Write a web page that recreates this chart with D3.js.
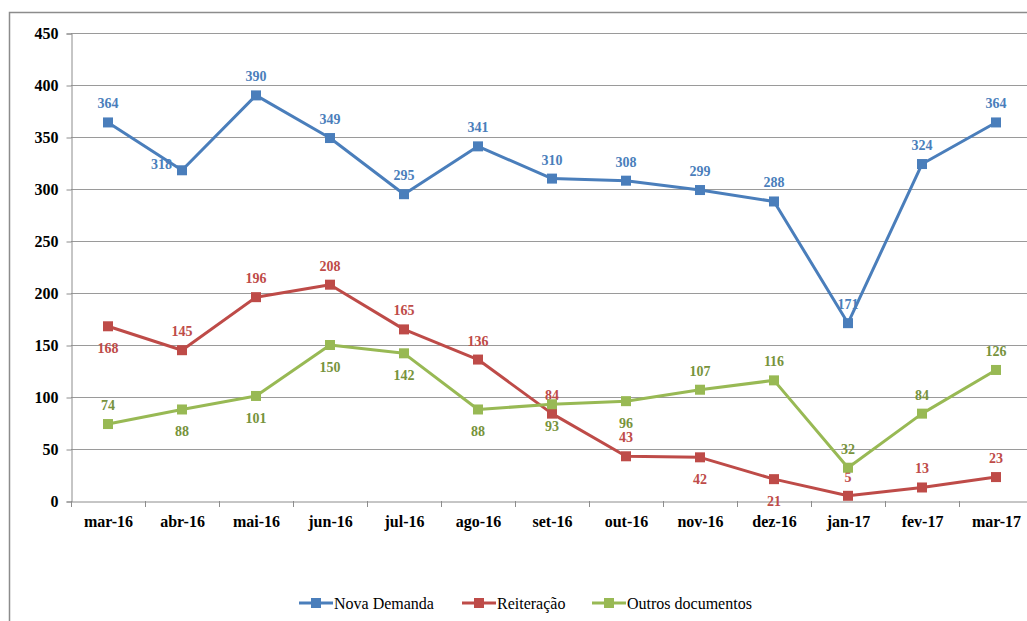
<!DOCTYPE html>
<html>
<head>
<meta charset="utf-8">
<script src="https://cdn.jsdelivr.net/npm/d3@7"></script>
<style>
  html, body { margin: 0; padding: 0; background: #fff; }
  svg { display: block; }
  svg text { font-family: "Liberation Serif", "DejaVu Serif", serif; }
</style>
</head>
<body>
<svg id="chart" width="1027" height="621"></svg>
<script>
const categories = ["mar-16","abr-16","mai-16","jun-16","jul-16","ago-16","set-16","out-16","nov-16","dez-16","jan-17","fev-17","mar-17"];
const novaDemanda = [364,318,390,349,295,341,310,308,299,288,171,324,364];
const reiteracao  = [168,145,196,208,165,136,84,43,42,21,5,13,23];
const outrosDocs  = [74,88,101,150,142,88,93,96,107,116,32,84,126];
const yTicks = [0,50,100,150,200,250,300,350,400,450];
const seriesNames = ["Nova Demanda","Reiteração","Outros documentos"];
const seriesColors = ["#4A7EBB","#BE4B48","#98B954"];
const labelColors = ["#4A7EBB","#BE4B48","#77933C"];
// label placement: a = above, b = below, l = left
const novaPlace = ["a","l","a","a","a","a","a","a","a","a","a","a","a"];
const reitPlace = ["b","a","a","a","a","a","a","a","b","b","a","a","a"];
const outrosPlace = ["a","b","b","b","b","b","b","b","a","a","a","a","a"];

const series = [
  {name: seriesNames[0], values: novaDemanda, place: novaPlace, color: seriesColors[0], lc: labelColors[0]},
  {name: seriesNames[1], values: reiteracao, place: reitPlace, color: seriesColors[1], lc: labelColors[1]},
  {name: seriesNames[2], values: outrosDocs, place: outrosPlace, color: seriesColors[2], lc: labelColors[2]}
];

const svg = d3.select("#chart");
const font = "Liberation Serif, DejaVu Serif, serif";

// outer chart border
svg.append("rect").attr("x",9.5).attr("y",12.5).attr("width",1100).attr("height",700)
  .attr("fill","none").attr("stroke","#8c8c8c").attr("stroke-width",1.5);

const x = d3.scaleBand().domain(categories).range([71,1033]).padding(0);
const y = d3.scaleLinear().domain([0,450]).range([501,33]);

// gridlines
svg.append("g").selectAll("line").data(yTicks.filter(d=>d>0)).join("line")
  .attr("x1",71).attr("x2",1033)
  .attr("y1",d=>Math.round(y(d))+0.5).attr("y2",d=>Math.round(y(d))+0.5)
  .attr("stroke","#9a9a9a").attr("stroke-width",1);

// y axis
const yAxis = svg.append("g").attr("transform","translate(71.5,0.5)")
  .call(d3.axisLeft(y).tickValues(yTicks).tickSize(5).tickPadding(8).tickFormat(d3.format("d")));
yAxis.attr("font-family",null).attr("font-size",null);
yAxis.select(".domain").attr("stroke","#8c8c8c");
yAxis.selectAll(".tick line").attr("stroke","#8c8c8c");
yAxis.selectAll("text").style("font-family",font).style("font-size","16px").style("font-weight","bold").attr("fill","#000");

// x axis
const xAxis = svg.append("g").attr("transform","translate(0.5,501.5)")
  .call(d3.axisBottom(x).tickSize(0).tickPadding(14));
xAxis.attr("font-family",null).attr("font-size",null);
xAxis.select(".domain").attr("stroke","#8c8c8c");
xAxis.selectAll("text").style("font-family",font).style("font-size","16px").style("font-weight","bold").attr("fill","#000");
// x tick marks at band boundaries
svg.append("g").selectAll("line").data(categories).join("line")
  .attr("x1",d=>Math.round(x(d))+0.5).attr("x2",d=>Math.round(x(d))+0.5)
  .attr("y1",501).attr("y2",507).attr("stroke","#8c8c8c");

const cx = d => x(d) + x.bandwidth()/2;
const line = d3.line().x(d=>cx(d.c)).y(d=>y(d.v));

series.forEach(s => {
  const pts = categories.map((c,i)=>({c, v:s.values[i], p:s.place[i]}));
  const g = svg.append("g");
  g.append("path").datum(pts).attr("d",line).attr("fill","none")
    .attr("stroke",s.color).attr("stroke-width",3).attr("stroke-linejoin","round");
  g.selectAll("rect").data(pts).join("rect")
    .attr("x",d=>cx(d.c)-5).attr("y",d=>y(d.v)-5).attr("width",10).attr("height",10)
    .attr("fill",s.color);
  g.selectAll("text").data(pts).join("text")
    .attr("x",d=> d.p==="l" ? cx(d.c)-10 : cx(d.c))
    .attr("y",d=> d.p==="a" ? y(d.v)-14 : d.p==="b" ? y(d.v)+27 : y(d.v)-1)
    .attr("text-anchor",d=> d.p==="l" ? "end" : "middle")
    .style("font-family",font).style("font-size","14px").style("font-weight","bold")
    .attr("fill",s.lc).text(d=>d.v);
});

// legend
const legendX = [299,462,592];
const legend = svg.append("g");
series.forEach((s,i)=>{
  const lx = legendX[i], ly = 603;
  legend.append("line").attr("x1",lx).attr("x2",lx+34).attr("y1",ly).attr("y2",ly)
    .attr("stroke",s.color).attr("stroke-width",3);
  legend.append("rect").attr("x",lx+12).attr("y",ly-5).attr("width",10).attr("height",10).attr("fill",s.color);
  legend.append("text").attr("x",lx+35).attr("y",ly+5.5).style("font-family",font).style("font-size","16px")
    .attr("fill","#000").text(s.name);
});
</script>
</body>
</html>
